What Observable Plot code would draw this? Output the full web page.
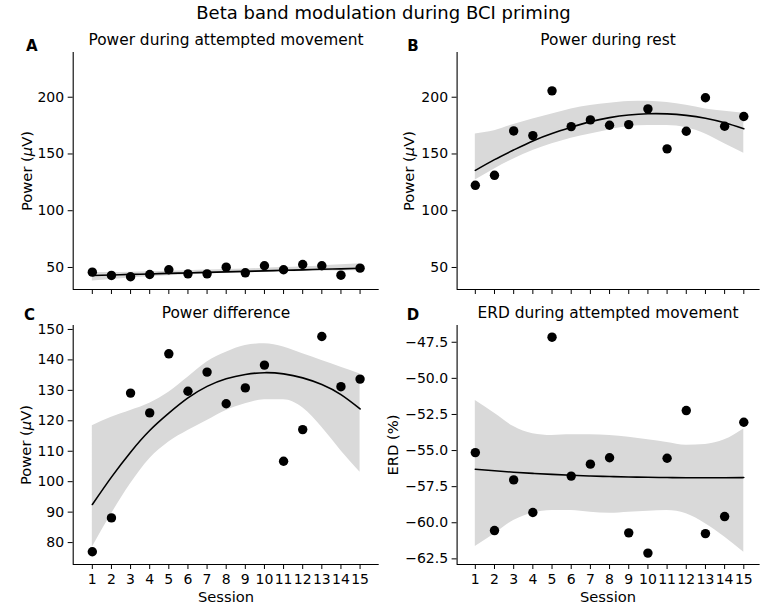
<!DOCTYPE html>
<html>
<head>
<meta charset="utf-8">
<script src="https://cdn.jsdelivr.net/npm/d3@7"></script>
<script src="https://cdn.jsdelivr.net/npm/@observablehq/plot@0.6"></script>
<style>
  html, body { margin: 0; padding: 0; background: white; }
  #wrap { position: relative; width: 767px; height: 606px; overflow: hidden; font-family: "DejaVu Sans", sans-serif; color: #000; }
  #wrap svg { position: absolute; left: 0; top: 0; }
  .lbl { position: absolute; white-space: nowrap; line-height: 1; transform: translate(-50%, -50%); }
  .rot { transform: translate(-50%, -50%) rotate(-90deg); }
</style>
</head>
<body>
<div id="wrap"></div>
<script>
// ---------- data ----------
const sessions = [1, 2, 3, 4, 5, 6, 7, 8, 9, 10, 11, 12, 13, 14, 15];

// A: power during attempted movement
const movePower = [45.9, 43.0, 41.8, 43.8, 48.0, 44.4, 44.4, 50.3, 45.3, 51.5, 48.0, 52.6, 51.5, 43.2, 49.4];
const moveFit   = [43.0, 43.4, 43.9, 44.3, 44.8, 45.2, 45.7, 46.1, 46.6, 47.0, 47.5, 47.9, 48.4, 48.8, 49.3];
const moveLo    = [38.0, 39.4, 40.7, 41.8, 42.8, 43.6, 44.3, 44.9, 45.4, 45.8, 46.2, 46.5, 46.8, 47.0, 47.2];
const moveHi    = [45.3, 45.5, 45.8, 46.2, 46.7, 47.2, 47.7, 48.2, 48.7, 49.3, 49.9, 50.6, 51.4, 52.3, 53.2];

// B: power during rest
const restPower = [122.4, 131.2, 170.3, 166.2, 205.6, 174.1, 180.0, 175.3, 175.9, 189.7, 154.5, 170.0, 199.5, 174.4, 183.0];
const restFit   = [135.5, 145.0, 153.5, 161.5, 168.0, 173.5, 178.5, 182.0, 184.3, 185.4, 185.3, 184.0, 181.5, 177.5, 172.3];
const restLo    = [127.0, 136.8, 145.6, 153.0, 158.9, 163.8, 167.7, 171.2, 174.1, 175.0, 175.0, 173.0, 167.7, 159.1, 150.6];
const restHi    = [167.7, 170.5, 175.9, 180.9, 185.3, 189.7, 192.7, 194.7, 196.2, 196.4, 195.3, 192.9, 189.7, 187.6, 185.9];

// C: power difference
const diffPower = [77.0, 88.1, 129.1, 122.6, 142.0, 129.7, 136.0, 125.6, 130.8, 138.3, 106.7, 117.1, 147.7, 131.2, 133.7];
const diffFit   = [92.5, 101.5, 109.7, 116.8, 122.5, 127.5, 131.3, 133.8, 135.2, 135.8, 135.4, 134.1, 131.9, 128.6, 123.9];
const diffLo    = [78.5, 89.4, 99.3, 107.5, 113.0, 116.8, 120.1, 123.4, 125.6, 126.9, 126.9, 124.3, 117.9, 110.2, 103.1];
const diffHi    = [118.4, 121.2, 123.4, 125.8, 129.4, 134.3, 139.3, 142.5, 144.7, 145.3, 144.2, 142.0, 139.8, 137.6, 135.4];

// D: ERD during attempted movement
const erdValues = [-55.14, -60.54, -57.03, -59.29, -47.15, -56.77, -55.94, -55.50, -60.70, -62.10, -55.53, -52.23, -60.75, -59.57, -53.04];
const erdFit    = [-56.29, -56.40, -56.50, -56.58, -56.65, -56.71, -56.76, -56.80, -56.83, -56.85, -56.87, -56.88, -56.88, -56.88, -56.87];
const erdLo     = [-61.64, -60.77, -59.84, -59.34, -59.15, -59.15, -59.27, -59.34, -59.27, -59.20, -59.15, -59.38, -60.07, -60.99, -62.04];
const erdHi     = [-51.54, -52.42, -53.34, -53.84, -53.96, -53.91, -53.91, -53.96, -54.08, -54.26, -54.44, -54.63, -54.58, -54.26, -53.50];

// tick values
const powerTicks = [50, 100, 150, 200];
const diffTicks  = [80, 90, 100, 110, 120, 130, 140, 150];
const erdTicks   = [-62.5, -60.0, -57.5, -55.0, -52.5, -50.0, -47.5];

// texts
const suptitle = "Beta band modulation during BCI priming";
const panelTitles = ["Power during attempted movement", "Power during rest", "Power difference", "ERD during attempted movement"];
const panelLetters = ["A", "B", "C", "D"];
const xLabel = "Session";

// ---------- drawing ----------
const W = 767, H = 606;
const wrap = document.getElementById("wrap");

function panel({xDomain, yDomain, yTicks, yFormat, showX, box, pts, fit, lo, hi}) {
  const rows = sessions.map((s, i) => ({s, v: pts[i], f: fit[i], lo: lo[i], hi: hi[i]}));
  return Plot.plot({
    width: W, height: H,
    marginLeft: box[0], marginRight: W - box[1], marginTop: box[2], marginBottom: H - box[3],
    style: {background: "transparent", fontFamily: "DejaVu Sans", fontSize: "14px", color: "black", overflow: "visible"},
    x: {domain: xDomain},
    y: {domain: yDomain},
    marks: [
      Plot.areaY(rows, {x: "s", y1: "lo", y2: "hi", fill: "#d9d9d9", curve: "monotone-x"}),
      Plot.line(rows, {x: "s", y: "f", stroke: "black", strokeWidth: 1.6, curve: "natural"}),
      Plot.dot(rows, {x: "s", y: "v", r: 4.7, fill: "black"}),
      Plot.ruleX([xDomain[0]], {stroke: "black", strokeWidth: 1.1}),
      Plot.ruleY([yDomain[0]], {stroke: "black", strokeWidth: 1.1}),
      Plot.axisX({ticks: sessions, tickSize: 5, tickPadding: 5, label: null, fontSize: 14,
                  tickFormat: showX ? (d => String(d)) : (() => "")}),
      Plot.axisY({ticks: yTicks, tickSize: 5, tickPadding: 4, label: null, fontSize: 14, tickFormat: yFormat})
    ]
  });
}

const leftBox = [72.7, 378.7];
const rightBox = [456.6, 759.6];
const topRow = [52, 289];
const botRow = [325, 564];
const leftX = [0, 16];
const rightX = [0.05, 15.85];

wrap.appendChild(panel({xDomain: leftX, yDomain: [30.6, 239.4], yTicks: powerTicks, yFormat: d3.format("d"), showX: false,
  box: [...leftBox, ...topRow], pts: movePower, fit: moveFit, lo: moveLo, hi: moveHi}));
wrap.appendChild(panel({xDomain: rightX, yDomain: [30.6, 239.4], yTicks: powerTicks, yFormat: d3.format("d"), showX: false,
  box: [...rightBox, ...topRow], pts: restPower, fit: restFit, lo: restLo, hi: restHi}));
wrap.appendChild(panel({xDomain: leftX, yDomain: [72.8, 151.3], yTicks: diffTicks, yFormat: d3.format("d"), showX: true,
  box: [...leftBox, ...botRow], pts: diffPower, fit: diffFit, lo: diffLo, hi: diffHi}));
wrap.appendChild(panel({xDomain: rightX, yDomain: [-62.89, -46.34], yTicks: erdTicks, yFormat: d3.format(".1f"), showX: true,
  box: [...rightBox, ...botRow], pts: erdValues, fit: erdFit, lo: erdLo, hi: erdHi}));

function label(html, cx, cy, opts = {}) {
  const d = document.createElement("div");
  d.className = "lbl" + (opts.rot ? " rot" : "");
  d.innerHTML = html;
  d.style.left = cx + "px";
  d.style.top = cy + "px";
  d.style.fontSize = (opts.size || 14.7) + "px";
  if (opts.bold) d.style.fontWeight = "bold";
  wrap.appendChild(d);
}

const muLabel = "Power (<i>\u03bc</i>V)";
label(suptitle, 383.5, 13, {size: 18});
label(panelTitles[0], 226, 41, {size: 15.4});
label(panelTitles[1], 608, 41, {size: 15.4});
label(panelTitles[2], 226, 314, {size: 15.4});
label(panelTitles[3], 608, 314, {size: 15.4});
label(panelLetters[0], 31.7, 46, {bold: true, size: 15});
label(panelLetters[1], 413, 46, {bold: true, size: 15});
label(panelLetters[2], 29.5, 315, {bold: true, size: 15});
label(panelLetters[3], 413, 315, {bold: true, size: 15});
label(muLabel, 26.7, 170.5, {rot: true});
label(muLabel, 409.3, 170.5, {rot: true});
label(muLabel, 26, 444.5, {rot: true});
label("ERD (%)", 393.3, 444.5, {rot: true});
label(xLabel, 226, 597);
label(xLabel, 608, 597);
</script>
</body>
</html>
